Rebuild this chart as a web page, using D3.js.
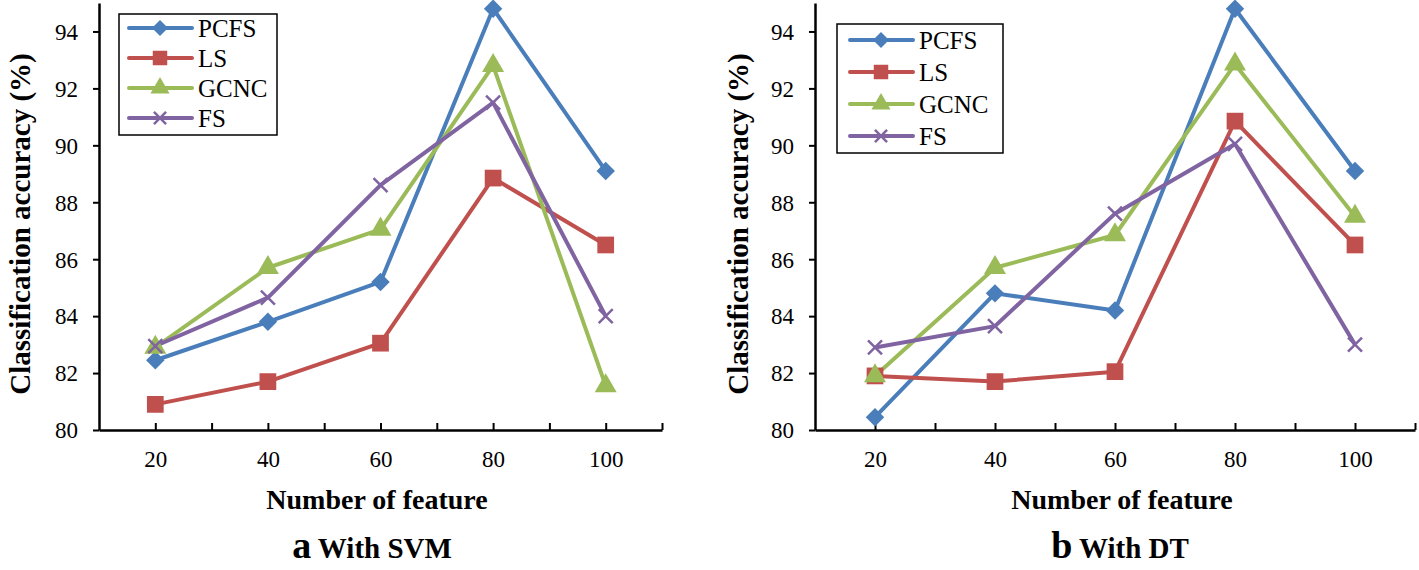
<!DOCTYPE html>
<html>
<head>
<meta charset="utf-8">
<script src="https://cdn.jsdelivr.net/npm/d3@7"></script>
<style>
  body { margin: 0; background: #fff; }
  svg text { font-family: "Liberation Serif", "Times New Roman", serif; fill: #000; }
</style>
</head>
<body>
<div id="the_chart"></div>
<script>
// data
const features = [20, 40, 60, 80, 100];
const seriesNames = ["PCFS", "LS", "GCNC", "FS"];
const svmPCFS = [82.45, 83.8, 85.2, 94.8, 89.1];
const svmLS = [80.9, 81.7, 83.05, 88.85, 86.5];
const svmGCNC = [82.9, 85.7, 87.05, 92.8, 81.55];
const svmFS = [82.95, 84.65, 88.6, 91.5, 84.0];
const dtPCFS = [80.45, 84.8, 84.2, 94.8, 89.1];
const dtLS = [81.9, 81.7, 82.05, 90.85, 86.5];
const dtGCNC = [81.9, 85.7, 86.85, 92.85, 87.5];
const dtFS = [82.9, 83.65, 87.6, 90.05, 83.0];
const yTicks = [80, 82, 84, 86, 88, 90, 92, 94];
const xTicks = [20, 30, 40, 50, 60, 70, 80, 90, 100, 110];
const xLabels = [20, 40, 60, 80, 100];

const colors = ["#4A7EBB", "#C0504D", "#9BBB59", "#8064A2"];
const markers = ["diamond", "square", "triangle", "x"];

const W = 1419, H = 570;
const svg = d3.select("#the_chart").append("svg")
    .attr("width", W)
    .attr("height", H);

function markerPath(type, scale) {
    scale = scale || 1;
    if (type == "diamond") return d3.symbol().type(d3.symbolSquare).size(170 * scale)();
    if (type == "square") return d3.symbol().type(d3.symbolSquare).size(280 * scale)();
    if (type == "triangle") return d3.symbol().type(d3.symbolTriangle).size(210 * scale)();
    var s = 7 * Math.sqrt(scale);
    return `M${-s},${-s}L${s},${s}M${-s},${s}L${s},${-s}`;
}

function addMarker(sel, k, scale) {
    return sel.append("path")
        .attr("d", markerPath(markers[k], scale))
        .attr("fill", markers[k] == "x" ? "none" : colors[k])
        .attr("stroke", colors[k])
        .attr("stroke-width", markers[k] == "x" ? 2.5 : 0);
}

function drawPanel(opts) {
    var { left, right, series, legend, letter, caption, ylabelX, titleX, capX } = opts;
    var top = 3, bottom = 430;

    var xscale = d3.scaleLinear().domain([10, 110]).range([left, right]);
    var yscale = d3.scaleLinear().domain([80, 95]).range([bottom, top]);

    var g = svg.append("g");

    // y axis
    var yaxis = d3.axisLeft(yscale)
        .tickValues(yTicks)
        .tickSizeInner(6)
        .tickSizeOuter(0)
        .tickPadding(15)
        .tickFormat(d3.format("d"));
    var ya = g.append("g")
        .attr("transform", "translate(" + left + ",0)")
        .call(yaxis);
    ya.select(".domain").attr("stroke-width", 2.5);
    ya.selectAll(".tick line").attr("stroke-width", 2);
    ya.selectAll("text").style("font-size", "23px").style("font-family", "Liberation Serif").attr("dy", "0.34em");

    // x axis, ticks pointing inward
    var xaxis = d3.axisBottom(xscale)
        .tickValues(xTicks)
        .tickSizeInner(-7)
        .tickSizeOuter(0)
        .tickPadding(21)
        .tickFormat(d => xLabels.includes(d) ? d : "");
    var xa = g.append("g")
        .attr("transform", "translate(0," + bottom + ")")
        .call(xaxis);
    xa.select(".domain").attr("stroke-width", 2.5);
    xa.selectAll(".tick line").attr("stroke-width", 2);
    xa.selectAll("text").style("font-size", "23px").style("font-family", "Liberation Serif");

    // lines
    var line = d3.line()
        .x((d, i) => xscale(features[i]))
        .y(d => yscale(d));

    series.forEach((vals, k) => {
        g.append("path")
            .attr("d", line(vals))
            .attr("fill", "none")
            .attr("stroke", colors[k])
            .attr("stroke-width", 4)
            .attr("stroke-linejoin", "round");
    });
    series.forEach((vals, k) => {
        vals.forEach((v, i) => {
            var m = addMarker(g, k, 1);
            var t = "translate(" + xscale(features[i]) + "," + yscale(v) + ")";
            m.attr("transform", markers[k] == "diamond" ? t + " rotate(45)" : t);
        });
    });

    // legend
    var lg = g.append("g").attr("transform", "translate(" + legend.x + "," + legend.y + ")");
    lg.append("rect")
        .attr("width", legend.w)
        .attr("height", legend.h)
        .attr("fill", "#fff")
        .attr("stroke", "#000")
        .attr("stroke-width", 1.5);
    seriesNames.forEach((name, k) => {
        var yy = legend.first + k * legend.step;
        lg.append("line")
            .attr("x1", legend.lx).attr("x2", legend.lx + 63)
            .attr("y1", yy).attr("y2", yy)
            .attr("stroke", colors[k])
            .attr("stroke-width", 4)
            .attr("stroke-linecap", "round");
        var m = addMarker(lg, k, 0.75);
        m.attr("transform", "translate(" + (legend.lx + 31) + "," + yy + ")" + (markers[k] == "diamond" ? " rotate(45)" : ""));
        lg.append("text")
            .attr("x", legend.lx + 69)
            .attr("y", yy)
            .attr("dy", "0.35em")
            .style("font-size", "25px")
            .text(name);
    });

    // axis titles
    g.append("text")
        .attr("transform", "translate(" + ylabelX + ",224) rotate(-90)")
        .attr("text-anchor", "middle")
        .style("font-size", "29px")
        .style("font-weight", "bold")
        .text("Classification accuracy (%)");

    g.append("text")
        .attr("x", titleX)
        .attr("y", 509)
        .attr("text-anchor", "middle")
        .style("font-size", "28px")
        .style("font-weight", "bold")
        .text("Number of feature");

    var cap = g.append("text")
        .attr("x", capX)
        .attr("y", 558)
        .attr("text-anchor", "middle")
        .style("font-weight", "bold");
    cap.append("tspan").style("font-size", "38px").text(letter);
    cap.append("tspan").style("font-size", "29px").text(" " + caption);
}

drawPanel({
    left: 99, right: 662,
    series: [svmPCFS, svmLS, svmGCNC, svmFS],
    legend: { x: 119, y: 14, w: 158, h: 121, first: 14, step: 30, lx: 10 },
    letter: "a", caption: "With SVM", ylabelX: 30, titleX: 377, capX: 372
});

drawPanel({
    left: 815, right: 1415,
    series: [dtPCFS, dtLS, dtGCNC, dtFS],
    legend: { x: 837, y: 24, w: 166, h: 129, first: 16, step: 32, lx: 13 },
    letter: "b", caption: "With DT", ylabelX: 748, titleX: 1122, capX: 1120
});
</script>
</body>
</html>
